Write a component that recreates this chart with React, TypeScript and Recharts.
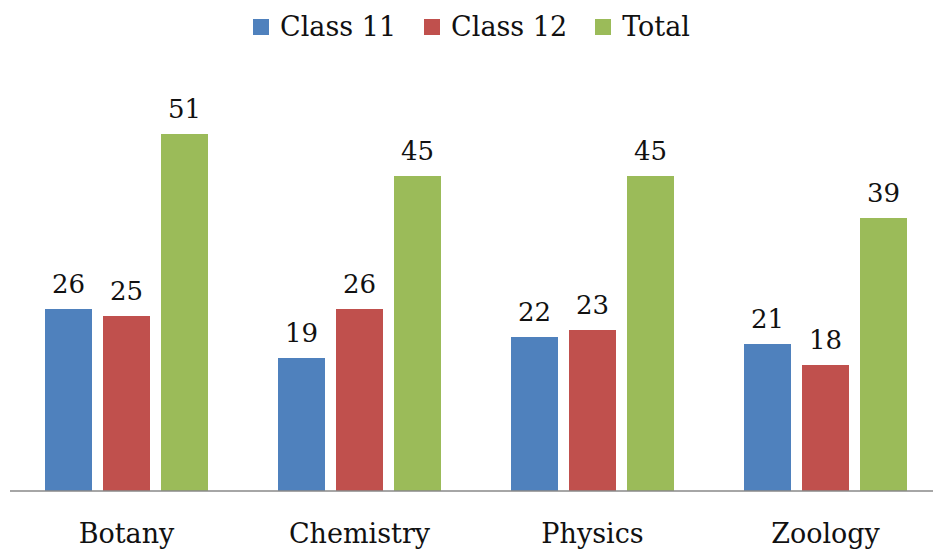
import { Bar, BarChart, LabelList, XAxis, YAxis } from "recharts";

const subjects = ["Botany", "Chemistry", "Physics", "Zoology"];
const class11 = [26, 19, 22, 21];
const class12 = [25, 26, 23, 18];
const total = [51, 45, 45, 39];

const series = [
  { key: "class11", name: "Class 11", color: "#4F81BD" },
  { key: "class12", name: "Class 12", color: "#C0504D" },
  { key: "total", name: "Total", color: "#9BBB59" },
];

const data = subjects.map((s, i) => ({
  subject: s,
  class11: class11[i],
  class12: class12[i],
  total: total[i],
}));

const FONT = "'DejaVu Serif', serif";

// legend drawn as plain html so it doesn't eat into the plot height
function LegendRow() {
  return (
    <div
      style={{
        position: "absolute",
        top: 11,
        left: 0,
        width: 933,
        display: "flex",
        justifyContent: "center",
        fontFamily: FONT,
        fontSize: 27,
        color: "#111",
        paddingLeft: 10,
        boxSizing: "border-box",
      }}
    >
      {series.map((s) => (
        <div key={s.key} style={{ display: "flex", alignItems: "center", margin: "0 14px" }}>
          <span
            style={{
              display: "inline-block",
              width: 16,
              height: 16,
              background: s.color,
              marginRight: 11,
            }}
          />
          <span>{s.name}</span>
        </div>
      ))}
    </div>
  );
}

export default function App() {
  return (
    <div
      style={{
        position: "absolute",
        left: 0,
        top: 0,
        width: 933,
        height: 549,
        overflow: "hidden",
        background: "#fff",
      }}
    >
      <LegendRow />
      <BarChart
        width={945}
        height={549}
        data={data}
        margin={{ top: 71, right: 3, bottom: 0, left: 10 }}
        barSize={47}
        barGap={11}
      >
        <YAxis hide domain={[0, 60]} />
        <XAxis
          dataKey="subject"
          height={58}
          axisLine={{ stroke: "#888", strokeWidth: 1.5 }}
          tickLine={false}
          tickSize={0}
          tickMargin={33}
          tick={{ fill: "#111", fontSize: 27, fontFamily: FONT }}
        />
        {series.map((s) => (
          <Bar key={s.key} dataKey={s.key} name={s.name} fill={s.color} isAnimationActive={false}>
            <LabelList
              dataKey={s.key}
              position="top"
              offset={16}
              fill="#111"
              fontSize={26}
              fontFamily={FONT}
            />
          </Bar>
        ))}
      </BarChart>
    </div>
  );
}
